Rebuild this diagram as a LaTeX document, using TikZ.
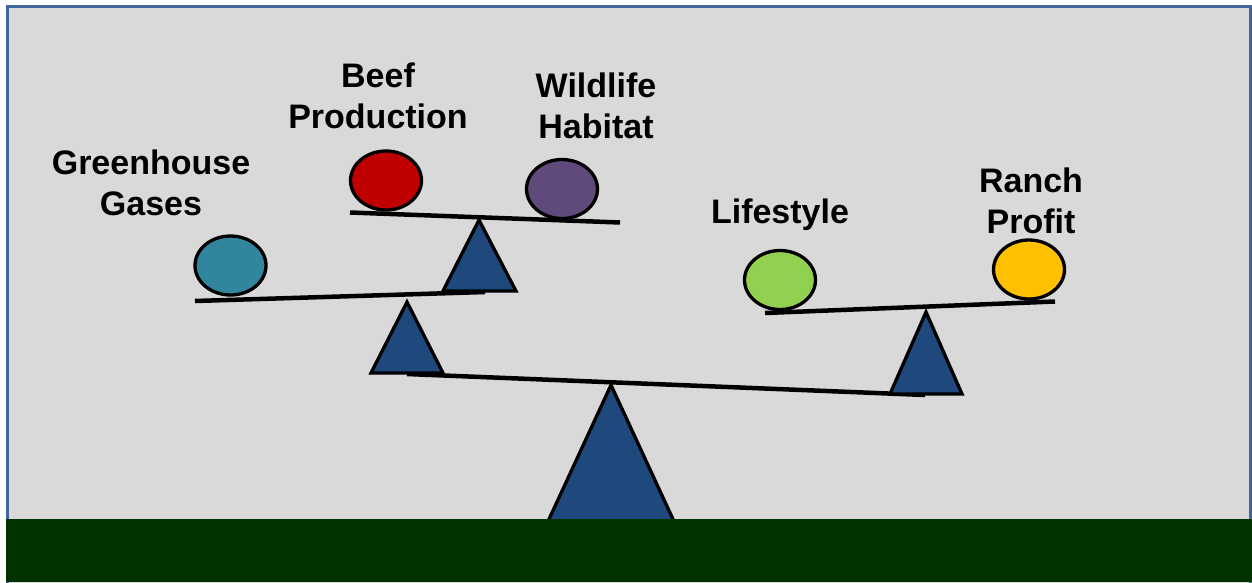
\documentclass[tikz,border=0pt]{standalone}
\usepackage{fontspec}
\setmainfont{Liberation Sans}
\usetikzlibrary{shapes.geometric}
\definecolor{panel}{HTML}{D9D9D9}
\definecolor{frameblue}{HTML}{41679A}
\definecolor{grass}{HTML}{003300}
\definecolor{pivot}{HTML}{1F497D}
\definecolor{teal}{HTML}{31859C}
\definecolor{beefred}{HTML}{C00000}
\definecolor{plum}{HTML}{604A7B}
\definecolor{lime}{HTML}{92D050}
\definecolor{gold}{HTML}{FFC000}
\tikzset{
  beam/.style={draw=black, line width=4.5pt},
  fulcrum/.style={draw=black, fill=pivot, line width=3.3pt, line join=miter},
  ball/.style={ellipse, draw=black, line width=3.3pt, minimum width=71pt, minimum height=59pt, inner sep=0pt},
  label/.style={font=\fontsize{34}{41}\selectfont\bfseries, align=center, inner sep=0pt}
}
\begin{document}
\begin{tikzpicture}[x=1pt, y=-1pt]
\useasboundingbox (0,0) rectangle (1252,582);
% panel
\draw[frameblue, line width=3pt, fill=panel] (7.5,6.5) rectangle (1250.2,590);

% main seesaw, its base hidden by the ground
\coordinate (mainL) at (407,374);
\coordinate (mainR) at (925,395);
\draw[beam] (mainL) -- (mainR);
\draw[fulcrum] (611,385) -- (678,530) -- (544,530) -- cycle;

% ground
\fill[grass] (6,519) rectangle (1252,582);

% left arm seesaw
\coordinate (armL) at (195,301);
\coordinate (armR) at (485,292);
\draw[beam] (armL) -- (armR);
\draw[fulcrum] (407,302) -- (443,373) -- (371,373) -- cycle;

% upper seesaw
\coordinate (topL) at (350,212.5);
\coordinate (topR) at (620,222.5);
\draw[beam] (topL) -- (topR);
\draw[fulcrum] (479,220) -- (516,291) -- (443,291) -- cycle;

% right seesaw
\coordinate (rightL) at (765,313);
\coordinate (rightR) at (1055,301.5);
\draw[beam] (rightL) -- (rightR);
\draw[fulcrum] (926,312) -- (962,394) -- (890,394) -- cycle;

% weights
\node[ball, fill=teal]    (ghg)    at (230.5,265.5) {};
\node[ball, fill=beefred] (beef)   at (386,180.5) {};
\node[ball, fill=plum]    (wild)   at (562,189) {};
\node[ball, fill=lime]    (life)   at (780,280) {};
\node[ball, fill=gold]    (profit) at (1029,269.5) {};

% labels
\node[label] (ghgtext)    at (151,183) {Greenhouse\\Gases};
\node[label] (beeftext)   at (378,96) {Beef\\Production};
\node[label] (wildtext)   at (596,106) {Wildlife\\Habitat};
\node[label] (lifetext)   at (780,215) {Lifestyle};
\node[label] (profittext) at (1031,201) {Ranch\\Profit};
\end{tikzpicture}
\end{document}
